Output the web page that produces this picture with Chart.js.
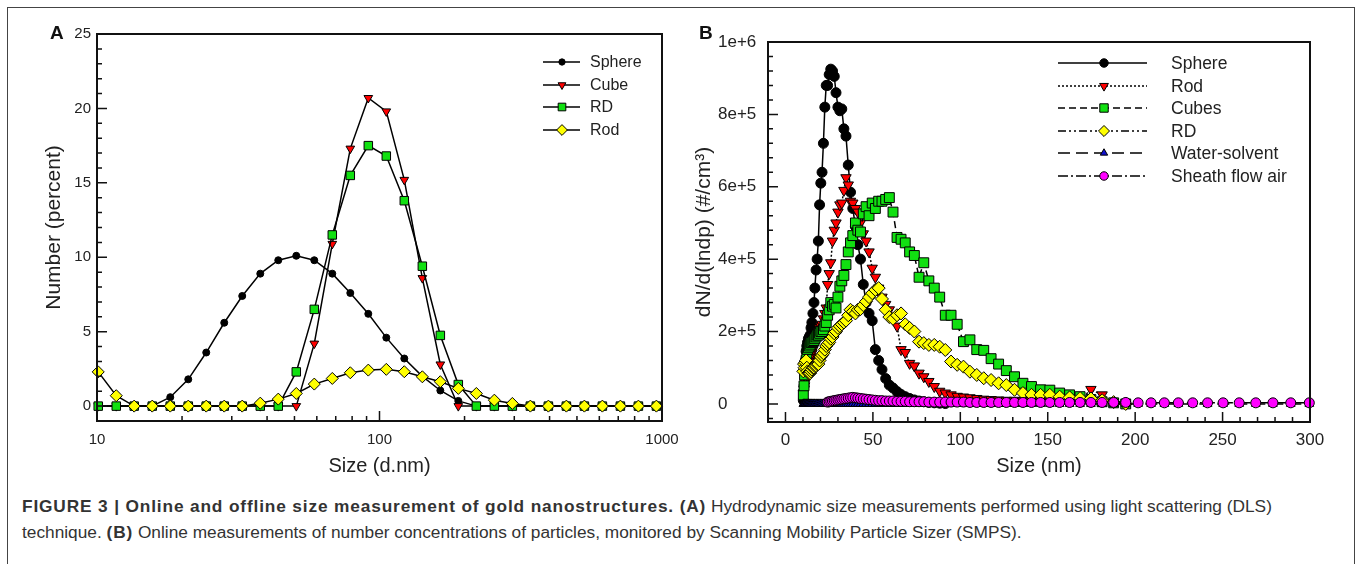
<!DOCTYPE html>
<html>
<head>
<meta charset="utf-8">
<script src="https://cdn.jsdelivr.net/npm/chart.js@4.4.0/dist/chart.umd.min.js"></script>
<style>
  body { margin: 0; background: #fff; width: 1357px; height: 564px; overflow: hidden; position: relative;
         font-family: "Liberation Sans", Arial, Helvetica, sans-serif; color: #222; }
  #frame { position: absolute; left: 7px; top: 7px; width: 1346px; height: 600px; border: 1px solid #444; border-bottom: none; }
  .panel { position: absolute; top: 0; height: 490px; }
  #panelA { left: 0; width: 690px; }
  #panelB { left: 690px; width: 667px; }
  .tag { position: absolute; top: 22px; font-size: 19px; font-weight: bold; color: #111; }
  #caption { position: absolute; left: 22px; top: 493px; font-size: 17.3px; line-height: 26px; color: #333; white-space: nowrap; }
  #caption b { letter-spacing: 0.85px; }
</style>
</head>
<body>
<div id="frame"></div>
<div class="panel" id="panelA"><canvas id="chartA" width="690" height="490"></canvas></div>
<div class="panel" id="panelB"><canvas id="chartB" width="667" height="490"></canvas></div>
<div class="tag" style="left:50px">A</div>
<div class="tag" style="left:699px">B</div>
<div id="caption"><b>FIGURE 3 | Online and offline size measurement of gold nanostructures. (A)</b> Hydrodynamic size measurements performed using light scattering (DLS)<br>technique. <b>(B)</b> Online measurements of number concentrations of particles, monitored by Scanning Mobility Particle Sizer (SMPS).</div>

<script>
// ---- Panel A: DLS (size classes in d.nm, number %) ----
const sizeA = [10.1, 11.7, 13.54, 15.69, 18.17, 21.04, 24.36, 28.21, 32.67, 37.84,
               43.82, 50.75, 58.77, 68.06, 78.82, 91.28, 105.7, 122.4, 141.8, 164.2,
               190.1, 220.2, 255, 295.3, 342, 396.1, 458.7, 531.2, 615.1, 712.4, 825, 955.4];
const sphereA = [0, 0, 0, 0, 0.6, 1.8, 3.6, 5.6, 7.4, 8.9, 9.8, 10.1, 9.8, 8.9, 7.6, 6.2,
                 4.6, 3.2, 2.0, 1.05, 0.35, 0, 0, 0, 0, 0, 0, 0, 0, 0, 0, 0];
const cubeA = [0, 0, 0, 0, 0, 0, 0, 0, 0, 0, 0, 0, 4.2, 10.9, 17.3, 20.7,
               19.8, 15.2, 8.6, 2.8, 0, 0, 0, 0, 0, 0, 0, 0, 0, 0, 0, 0];
const rdA = [0, 0, 0, 0, 0, 0, 0, 0, 0, 0, 0, 2.3, 6.5, 11.5, 15.5, 17.5,
             16.8, 13.8, 9.4, 4.75, 1.45, 0, 0, 0, 0, 0, 0, 0, 0, 0, 0, 0];
const rodA = [2.3, 0.7, 0, 0, 0, 0, 0, 0, 0, 0.2, 0.47, 0.85, 1.48, 1.86, 2.24, 2.42,
              2.47, 2.31, 1.97, 1.64, 1.19, 0.85, 0.4, 0.18, 0, 0, 0, 0, 0, 0, 0, 0];
const xTicksA = [10, 100, 1000];
const yTicksA = [0, 5, 10, 15, 20, 25];

// ---- Panel B: SMPS (channel midpoints in nm, dN/dlogDp) ----
const sizeB = [10.2, 10.6, 10.9, 11.3, 11.8, 12.2, 12.6, 13.1, 13.6, 14.1,
               14.6, 15.1, 15.7, 16.3, 16.8, 17.5, 18.1, 18.8, 19.5, 20.2,
               20.9, 21.7, 22.5, 23.3, 24.1, 25.0, 25.9, 26.9, 27.9, 28.9,
               30.0, 31.1, 32.2, 33.4, 34.6, 35.9, 37.2, 38.5, 40.0, 41.4,
               42.9, 44.5, 46.1, 47.8, 49.6, 51.4, 53.3, 55.2, 57.3, 59.4,
               61.5, 63.8, 66.1, 68.5, 71.0, 73.7, 76.4, 79.1, 82.0, 85.1,
               88.2, 91.4, 94.7, 98.2, 101.8, 105.5, 109.4, 113.4, 117.6, 121.9,
               126.3, 131.0, 135.8, 140.7, 145.9, 151.2, 156.8, 162.5, 168.5, 174.7,
               181.1, 187.7, 194.6, 201.7, 209.1, 216.7, 224.7, 232.9, 241.4, 250.3,
               259.5, 269.0, 278.8, 289.0, 299.6];
const sphereB = [1e4, 5e4, 9e4, 1.2e5, 1.45e5, 1.6e5, 1.7e5, 1.8e5, 1.85e5, 1.9e5,
                 2.1e5, 2.25e5, 2.5e5, 2.8e5, 3.2e5, 3.7e5, 4.0e5, 4.5e5, 5.5e5, 6.1e5,
                 6.4e5, 7.2e5, 8.2e5, 8.8e5, 8.8e5, 9.1e5, 9.25e5, 9.2e5, 9.05e5, 8.6e5,
                 8.2e5, 8.1e5, 8.15e5, 7.6e5, 7.4e5, 6.6e5, 5.85e5, 5.4e5, 4.9e5, 4.4e5,
                 4.0e5, 3.3e5, 2.8e5, 2.5e5, 2.3e5, 1.5e5, 1.2e5, 9.5e4, 7e4, 5.2e4,
                 4.4e4, 3.4e4, 2.6e4, 2e4, 1.5e4, 1.1e4, 8e3, 6e3, 4e3, 3e3, 2e3, 1e3];
const rodB = [3e4, 4e4, 5e4, 6e4, 7e4, 8e4, 9e4, 1.0e5, 1.1e5, 1.2e5,
              1.3e5, 1.4e5, 1.5e5, 1.6e5, 1.7e5, 1.8e5, 1.9e5, 2.0e5, 2.1e5, 2.15e5,
              2.2e5, 2.35e5, 2.5e5, 2.65e5, 3.3e5, 3.6e5, 3.9e5, 4.5e5, 4.8e5, 5.0e5,
              5.3e5, 5.5e5, 5.55e5, 5.9e5, 6.25e5, 6.05e5, 5.6e5, 5.55e5, 5.4e5, 5.3e5,
              5.0e5, 4.7e5, 4.5e5, 4.2e5, 3.75e5, 3.5e5, 3.2e5, 2.95e5, 2.75e5, 2.6e5,
              2.35e5, 2.15e5, 1.5e5, 1.42e5, 1.12e5, 1.05e5, 8.5e4, 7.5e4, 6.2e4, 4.8e4,
              3.5e4, 3.0e4, 2.5e4, 2.1e4, 1.9e4, 1.7e4, 1.5e4, 1.3e4, 1.2e4, 1.1e4,
              1.0e4, 1.0e4, 9e3, 9e3, 8e3, 8e3, 8e3, 8e3, 1.0e4, 4.0e4, 2.5e4];
const cubesB = [2.5e4, 5e4, 8e4, 1.0e5, 1.2e5, 1.4e5, 1.5e5, 1.55e5, 1.6e5, 1.65e5,
                1.7e5, 1.7e5, 1.72e5, 1.75e5, 1.8e5, 1.85e5, 1.9e5, 1.9e5, 1.95e5, 2.0e5,
                2.0e5, 2.05e5, 2.15e5, 2.25e5, 2.45e5, 2.6e5, 2.8e5, 2.7e5, 2.75e5, 2.65e5,
                2.95e5, 3.25e5, 3.4e5, 3.55e5, 3.85e5, 4.2e5, 4.45e5, 4.65e5, 5.0e5, 4.8e5,
                4.75e5, 5.25e5, 5.45e5, 5.2e5, 5.55e5, 5.4e5, 5.6e5, 5.6e5, 5.65e5, 5.7e5,
                5.3e5, 4.6e5, 4.55e5, 4.45e5, 4.2e5, 4.1e5, 3.5e5, 3.9e5, 3.4e5, 3.2e5,
                2.95e5, 2.45e5, 2.45e5, 2.2e5, 1.72e5, 1.77e5, 1.5e5, 1.48e5, 1.25e5, 1.1e5,
                9.2e4, 7.5e4, 5.7e4, 4.8e4, 3.9e4, 3.8e4, 3.0e4, 2.5e4, 2.0e4, 1.2e4,
                6e3, 3e3, 0];
const rdB = [9e4, 1.1e5, 1.0e5, 1.15e5, 1.2e5, 1.0e5, 9e4, 8.5e4, 8.5e4, 8.5e4,
             9e4, 9.5e4, 1.0e5, 1.0e5, 1.05e5, 1.05e5, 1.1e5, 1.1e5, 1.2e5, 1.3e5,
             1.35e5, 1.4e5, 1.5e5, 1.6e5, 1.65e5, 1.7e5, 1.8e5, 1.85e5, 1.95e5, 2.0e5,
             2.1e5, 2.15e5, 2.2e5, 2.25e5, 2.3e5, 2.45e5, 2.6e5, 2.55e5, 2.5e5, 2.6e5,
             2.62e5, 2.73e5, 2.83e5, 2.95e5, 3.06e5, 3.15e5, 3.2e5, 2.9e5, 2.6e5, 2.4e5,
             2.35e5, 2.45e5, 2.5e5, 2.2e5, 2.1e5, 2.0e5, 1.72e5, 1.68e5, 1.63e5, 1.63e5,
             1.58e5, 1.49e5, 1.17e5, 1.08e5, 1.03e5, 8.9e4, 8.0e4, 7.1e4, 6.6e4, 5.7e4,
             5.2e4, 3.9e4, 3.0e4, 2.5e4, 2.5e4, 2.5e4, 2.0e4, 1.8e4, 1.6e4, 1.5e4,
             1.0e4, 5e3, 0];
const waterB = [0, 0, 0, 0, 0, 0, 0, 0, 0, 0,  0, 0, 0, 0, 0, 0, 0, 0, 0, 0,
                0, 0, 0, 0, 0, 0, 0, 0, 0, 0,  0, 0, 0, 0, 0, 0, 0, 0, 0, 0,
                0, 0, 0, 0, 0, 0, 0, 0, 0, 0,  0, 0, 0, 0, 0, 0, 0, 0, 0, 0,
                0, 0, 0, 0, 0, 0, 0, 0, 0, 0,  0, 0, 0, 0, 0, 0, 0, 0, 0, 0,
                0, 0, 0, 0, 0, 0, 0, 0, 0, 0,  0, 0, 0, 0, 0];
const sheathB = [null, null, null, null, null, null, null, null, null, null,
                 null, null, null, null, null, null, null, null, null, null,
                 null, null, null, null, 5e3, 6e3, 7e3, 8e3, 9e3, 1.0e4,
                 1.1e4, 1.2e4, 1.3e4, 1.4e4, 1.5e4, 1.6e4, 1.7e4, 1.8e4, 1.7e4, 1.6e4,
                 1.5e4, 1.4e4, 1.3e4, 1.2e4, 1.1e4, 1.0e4, 9e3, 9e3, 8e3, 8e3,
                 8e3, 7e3, 7e3, 7e3, 6e3, 6e3, 6e3, 6e3, 5e3, 5e3,
                 5e3, 5e3, 5e3, 5e3, 5e3, 4e3, 4e3, 4e3, 4e3, 4e3,
                 4e3, 4e3, 4e3, 4e3, 4e3, 4e3, 4e3, 4e3, 4e3, 4e3,
                 4e3, 4e3, 4e3, 3e3, 3e3, 3e3, 3e3, 3e3, 3e3, 3e3,
                 3e3, 3e3, 3e3, 3e3, 3e3];
const xTicksB = [0, 50, 100, 150, 200, 250, 300];
const yTicksB = [0, 2e5, 4e5, 6e5, 8e5, 1e6];

Chart.defaults.font.family = '"Liberation Sans", Arial, Helvetica, sans-serif';
Chart.defaults.color = '#222';
Chart.defaults.animation = false;

function points(xs, ys) {
    return ys.map((y, i) => ({ x: xs[i], y: y })).filter(p => p.y !== null);
}

// Ramka wykresu, ticki do środka, legenda z odcinkiem linii
const panelDecor = {
    id: 'panelDecor',
    afterDatasetsDraw(chart, args, o) {
        const { ctx, chartArea: a } = chart;
        const sx = chart.scales.x, sy = chart.scales.y;
        ctx.save();
        ctx.setLineDash([]);
        ctx.strokeStyle = '#111';

        ctx.lineWidth = 1.5;
        ctx.beginPath();
        const xt = (vals, len) => vals.forEach(v => {
            const p = sx.getPixelForValue(v);
            ctx.moveTo(p, a.bottom); ctx.lineTo(p, a.bottom - len);
        });
        const yt = (vals, len) => vals.forEach(v => {
            const p = sy.getPixelForValue(v);
            ctx.moveTo(a.left, p); ctx.lineTo(a.left + len, p);
        });
        xt(o.xMajor, o.majorLen); xt(o.xMinor, o.minorLen);
        yt(o.yMajor, o.majorLen); yt(o.yMinor, o.minorLen);
        ctx.stroke();

        ctx.lineWidth = 2;
        ctx.strokeRect(a.left, a.top, a.right - a.left, a.bottom - a.top);

        // legenda
        const L = o.legend;
        chart.data.datasets.forEach((ds, i) => {
            const y = L.rows[i];
            ctx.lineWidth = 1.5;
            ctx.strokeStyle = '#000';
            ctx.setLineDash(ds.borderDash || []);
            ctx.beginPath();
            ctx.moveTo(L.x0, y); ctx.lineTo(L.x1, y);
            ctx.stroke();
            ctx.setLineDash([]);
            ctx.fillStyle = ds.pointBackgroundColor;
            ctx.strokeStyle = ds.pointBorderColor;
            ctx.lineWidth = 1;
            Chart.helpers.drawPoint(ctx, {
                pointStyle: ds.pointStyle, rotation: ds.pointRotation || 0,
                radius: ds.pointRadius * L.scale, borderWidth: 1
            }, L.xm, y);
            ctx.fillStyle = '#222';
            ctx.font = L.font;
            ctx.textAlign = 'left';
            ctx.textBaseline = 'middle';
            ctx.fillText(ds.label, L.xt, y + 1);
        });

        if (o.yTitle) {
            ctx.translate(o.yTitle.x, o.yTitle.y);
            ctx.rotate(-Math.PI / 2);
            ctx.fillStyle = '#222';
            ctx.font = o.yTitle.font;
            ctx.textAlign = 'center';
            ctx.textBaseline = 'middle';
            ctx.fillText(o.yTitle.text, 0, 0);
        }
        ctx.restore();
    }
};

function series(label, xs, ys, style) {
    return Object.assign({
        label: label,
        data: points(xs, ys),
        borderColor: '#000',
        borderWidth: 1.5,
        pointBorderColor: '#000',
        pointBorderWidth: 1,
        tension: 0,
        clip: false
    }, style);
}

// ---------- A ----------
const minorYA = [], minorXA = [];
for (let v = 0; v <= 25; v++) if (v % 5) minorYA.push(v);
[10, 100].forEach(d => { for (let k = 2; k <= 9; k++) minorXA.push(d * k); });

new Chart(document.getElementById('chartA'), {
    type: 'line',
    data: {
        datasets: [
            series('Sphere', sizeA, sphereA, { pointStyle: 'circle', pointRadius: 3.5, pointBackgroundColor: '#000', order: 4 }),
            series('Cube', sizeA, cubeA, { pointStyle: 'triangle', pointRotation: 180, pointRadius: 5, pointBackgroundColor: '#ff0000', order: 3 }),
            series('RD', sizeA, rdA, { pointStyle: 'rect', pointRadius: 6, pointBackgroundColor: '#11e011', order: 2 }),
            series('Rod', sizeA, rodA, { pointStyle: 'rectRot', pointRadius: 6, pointBackgroundColor: '#ffff00', order: 1 })
        ]
    },
    options: {
        responsive: false,
        layout: { padding: { left: 0, right: 28, top: 34, bottom: 0 } },
        plugins: {
            legend: { display: false },
            tooltip: { enabled: false },
            panelDecor: {
                xMajor: xTicksA, xMinor: minorXA, yMajor: yTicksA, yMinor: minorYA,
                majorLen: 10, minorLen: 5,
                legend: { x0: 543, x1: 580, xm: 562, xt: 590, rows: [62, 85, 107, 130], scale: 0.9,
                          font: '16px "Liberation Sans", Arial, sans-serif' }
            }
        },
        scales: {
            x: {
                type: 'logarithmic', min: 10, max: 1000,
                grid: { display: false, drawTicks: false }, border: { display: false },
                afterBuildTicks: s => { s.ticks = xTicksA.map(v => ({ value: v })); },
                afterFit: s => { s.height = 69; },
                ticks: { font: { size: 15 }, padding: 10, maxRotation: 0, callback: v => String(v) },
                title: { display: true, text: 'Size (d.nm)', font: { size: 20 }, padding: { top: 0, bottom: 12 } }
            },
            y: {
                min: -1, max: 25,
                grid: { display: false, drawTicks: false }, border: { display: false },
                afterBuildTicks: s => { s.ticks = yTicksA.map(v => ({ value: v })); },
                afterFit: s => { s.width = 97; },
                ticks: { font: { size: 15 }, padding: 6 },
                title: { display: true, text: 'Number (percent)', font: { size: 21 }, padding: { top: 42, bottom: 0 } }
            }
        }
    },
    plugins: [panelDecor]
});

// ---------- B ----------
const minorYB = [-4e4], minorXB = [];
for (let v = 4e4; v < 1e6; v += 4e4) if (Math.round(v) % 2e5) minorYB.push(v);
for (let v = 10; v < 300; v += 10) if (v % 50) minorXB.push(v);

new Chart(document.getElementById('chartB'), {
    type: 'line',
    data: {
        datasets: [
            series('Sphere', sizeB, sphereB, { pointStyle: 'circle', pointRadius: 5, pointBackgroundColor: '#000', order: 6 }),
            series('Rod', sizeB, rodB, { borderDash: [2, 2], pointStyle: 'triangle', pointRotation: 180, pointRadius: 6, pointBackgroundColor: '#ff0000', order: 5 }),
            series('Cubes', sizeB, cubesB, { borderDash: [7, 4], pointStyle: 'rect', pointRadius: 7, pointBackgroundColor: '#11e011', order: 4 }),
            series('RD', sizeB, rdB, { borderDash: [8, 3, 2, 3, 2, 3], pointStyle: 'rectRot', pointRadius: 6.5, pointBackgroundColor: '#ffff00', order: 3 }),
            series('Water-solvent', sizeB, waterB, { borderDash: [12, 6], pointStyle: 'triangle', pointRadius: 5, pointBackgroundColor: '#1010d0', order: 2 }),
            series('Sheath flow air', sizeB, sheathB, { borderDash: [10, 3, 2, 3], pointStyle: 'circle', pointRadius: 5, pointBackgroundColor: '#ff00ff', order: 1 })
        ]
    },
    options: {
        responsive: false,
        layout: { padding: { left: 28, right: 47, top: 42, bottom: 0 } },
        plugins: {
            legend: { display: false },
            tooltip: { enabled: false },
            panelDecor: {
                xMajor: xTicksB, xMinor: minorXB, yMajor: yTicksB, yMinor: minorYB,
                majorLen: 10, minorLen: 5,
                legend: { x0: 368, x1: 457, xm: 414, xt: 481, rows: [63, 86, 108, 131, 153, 176], scale: 0.85,
                          font: '17.5px "Liberation Sans", Arial, sans-serif' },
                yTitle: { text: 'dN/d(lndp) (#/cm³)', x: 14, y: 232, font: '21px "Liberation Sans", Arial, sans-serif' }
            }
        },
        scales: {
            x: {
                type: 'linear', min: -10, max: 300,
                grid: { display: false, drawTicks: false }, border: { display: false },
                afterBuildTicks: s => { s.ticks = xTicksB.map(v => ({ value: v })); },
                afterFit: s => { s.height = 68; },
                ticks: { font: { size: 17 }, padding: 8, maxRotation: 0 },
                title: { display: true, text: 'Size (nm)', font: { size: 20 }, padding: { top: 0, bottom: 12 } }
            },
            y: {
                min: -5e4, max: 1e6,
                grid: { display: false, drawTicks: false }, border: { display: false },
                afterBuildTicks: s => { s.ticks = yTicksB.map(v => ({ value: v })); },
                afterFit: s => { s.width = 50; },
                ticks: { font: { size: 17 }, crossAlign: 'far',
                         callback: v => v === 0 ? '0' : v.toExponential() }
            }
        }
    },
    plugins: [panelDecor]
});
</script>
</body>
</html>
